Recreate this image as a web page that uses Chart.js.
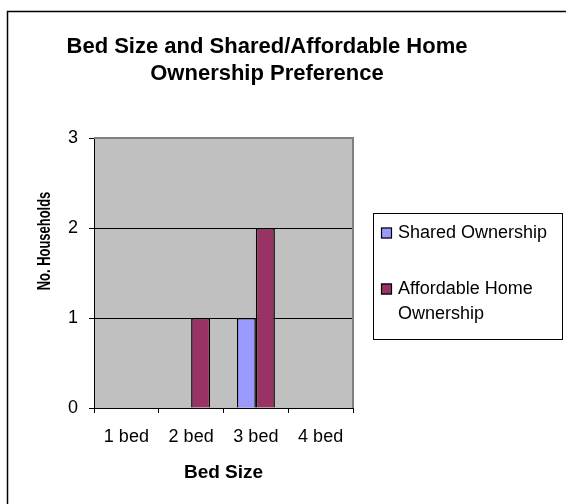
<!DOCTYPE html>
<html>
<head>
<meta charset="utf-8">
<script src="https://cdn.jsdelivr.net/npm/chart.js@4.4.0/dist/chart.umd.min.js"></script>
<style>
  html, body { margin: 0; padding: 0; background: #fff; }
  #wrap { width: 566px; height: 504px; }
</style>
</head>
<body>
<div id="wrap"><canvas id="c" width="566" height="504"></canvas></div>
<script>
// Chart text
const chartTitle = ['Bed Size and Shared/Affordable Home', 'Ownership Preference'];
const xTitle = 'Bed Size';
const yTitle = 'No. Households';

// Categories and series
const categories = ['1 bed', '2 bed', '3 bed', '4 bed'];
const sharedOwnership = [0, 0, 1, 0];
const affordableHomeOwnership = [0, 1, 2, 0];
const seriesNames = ['Shared Ownership', 'Affordable Home Ownership'];

// Value axis ticks
const yTicks = [0, 1, 2, 3];

const FONT = '"Liberation Sans", Arial, Helvetica, sans-serif';

// Gray plot background, outer frame, headings and the legend box
const decorations = {
  id: 'decorations',
  beforeDraw(chart) {
    const { ctx, chartArea: a } = chart;
    ctx.save();
    ctx.fillStyle = '#ffffff';
    ctx.fillRect(0, 0, chart.width, chart.height);
    ctx.fillStyle = '#c0c0c0';
    ctx.fillRect(a.left, a.top, a.right - a.left, a.bottom - a.top);
    ctx.restore();
  },
  afterDraw(chart) {
    const { ctx, chartArea: a } = chart;
    ctx.save();

    // plot border (top and right)
    ctx.strokeStyle = '#808080';
    ctx.lineWidth = 2;
    ctx.beginPath();
    ctx.moveTo(a.left, a.top);
    ctx.lineTo(a.right, a.top);
    ctx.lineTo(a.right, a.bottom);
    ctx.stroke();

    // outer frame
    ctx.strokeStyle = '#000';
    ctx.lineWidth = 1.5;
    ctx.beginPath();
    ctx.moveTo(7.5, chart.height);
    ctx.lineTo(7.5, 11.5);
    ctx.lineTo(chart.width, 11.5);
    ctx.stroke();

    // chart title
    ctx.fillStyle = '#000';
    ctx.textAlign = 'center';
    ctx.textBaseline = 'middle';
    ctx.font = 'bold 22px ' + FONT;
    chartTitle.forEach((line, i) => ctx.fillText(line, 267, 47 + i * 27));

    // axis titles
    ctx.font = 'bold 19px ' + FONT;
    ctx.fillText(xTitle, (a.left + a.right) / 2, 473);
    ctx.save();
    ctx.translate(45, 241);
    ctx.rotate(-Math.PI / 2);
    ctx.scale(0.72, 1);
    ctx.font = 'bold 18px ' + FONT;
    ctx.fillText(yTitle, 0, 0);
    ctx.restore();

    // legend
    const lx = 373.5, ly = 213.5, lw = 189, lh = 126;
    ctx.strokeStyle = '#000';
    ctx.lineWidth = 1;
    ctx.strokeRect(lx, ly, lw, lh);
    ctx.font = '18px ' + FONT;
    ctx.textAlign = 'left';
    const maxW = 160;
    let y = 233;
    chart.data.datasets.forEach(ds => {
      // wrap label words into lines
      const words = ds.label.split(' ');
      const lines = [];
      let cur = '';
      words.forEach(w => {
        const t = cur ? cur + ' ' + w : w;
        if (ctx.measureText(t).width > maxW && cur) { lines.push(cur); cur = w; }
        else cur = t;
      });
      lines.push(cur);
      ctx.fillStyle = ds.backgroundColor;
      ctx.fillRect(381, y - 5.5, 11, 11);
      ctx.strokeStyle = '#000';
      ctx.lineWidth = 1.2;
      ctx.strokeRect(381.5, y - 5, 10, 10);
      ctx.fillStyle = '#000';
      lines.forEach((ln, i) => ctx.fillText(ln, 398, y + i * 25));
      y += 56;
    });
    ctx.restore();
  }
};

new Chart(document.getElementById('c'), {
  type: 'bar',
  data: {
    labels: categories,
    datasets: [
      { label: seriesNames[0], data: sharedOwnership, backgroundColor: '#9999ff', borderColor: '#000', borderWidth: 1.5 },
      { label: seriesNames[1], data: affordableHomeOwnership, backgroundColor: '#993366', borderColor: '#000', borderWidth: 1.5 }
    ]
  },
  options: {
    responsive: false,
    devicePixelRatio: 1,
    animation: false,
    layout: { padding: { left: 0, top: 138, right: 213, bottom: 0 } },
    datasets: { bar: { categoryPercentage: 0.587, barPercentage: 1.0 } },
    plugins: {
      legend: { display: false },
      title: { display: false },
      tooltip: { enabled: false }
    },
    scales: {
      x: {
        grid: { offset: true, drawOnChartArea: false, tickColor: '#000', tickLength: 5 },
        border: { color: '#000', width: 1 },
        ticks: { color: '#000', font: { family: FONT, size: 18 }, padding: 13, maxRotation: 0, autoSkip: false },
        afterFit(s) { s.height = 96; }
      },
      y: {
        min: 0,
        max: 3,
        afterBuildTicks(s) { s.ticks = yTicks.map(v => ({ value: v })); },
        ticks: { color: '#000', font: { family: FONT, size: 18 }, padding: 11 },
        grid: {
          color: c => (c.tick && c.tick.value > 0 && c.tick.value < 3) ? '#000' : 'rgba(0,0,0,0)',
          tickColor: '#000',
          tickLength: 5,
          lineWidth: 1
        },
        border: { color: '#000', width: 1 },
        afterFit(s) { s.width = 94; }
      }
    }
  },
  plugins: [decorations]
});
</script>
</body>
</html>
